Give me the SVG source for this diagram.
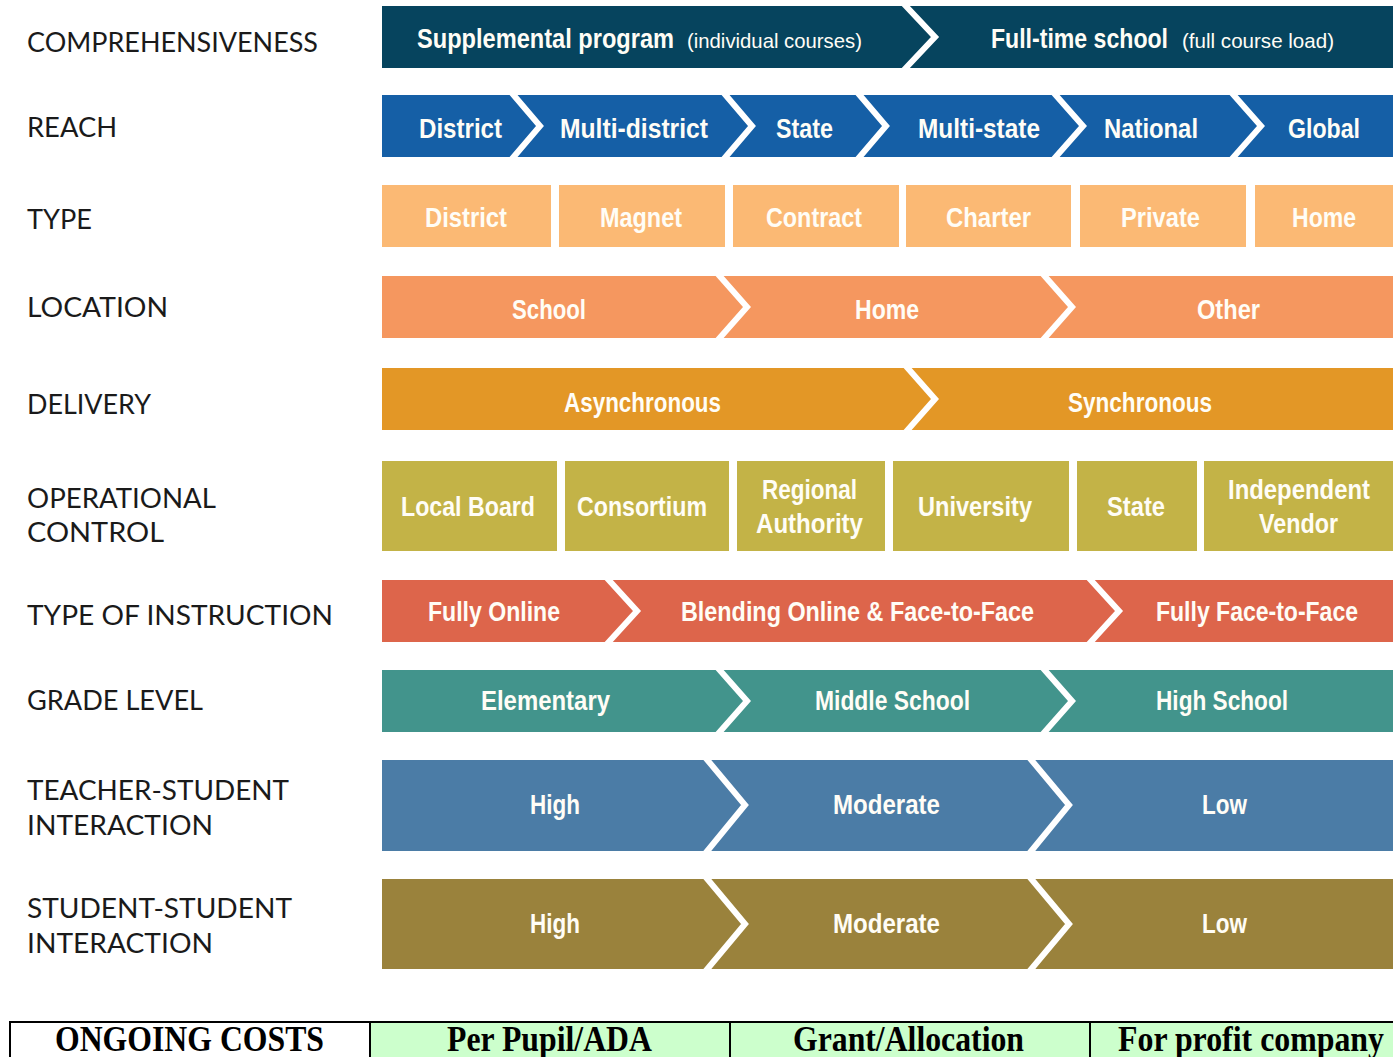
<svg xmlns="http://www.w3.org/2000/svg" width="1393" height="1057" viewBox="0 0 1393 1057">
<style>
.lbl{font-family:"Lato","Liberation Sans",sans-serif;font-size:27px;fill:#1a1a1a;}
.t{font-family:"Liberation Sans","Arial",sans-serif;font-weight:bold;font-size:27px;fill:#fffdf6;text-anchor:start;}
.ts{font-family:"Liberation Sans","Arial",sans-serif;font-weight:normal;font-size:21px;fill:#fffdf6;}
.sep{fill:none;stroke:#ffffff;stroke-width:6;stroke-linejoin:miter;}
.tb{font-family:"Liberation Serif","Times New Roman",serif;font-weight:bold;font-size:35px;fill:#000;}
.cell{stroke:#000;stroke-width:2;}
</style>
<rect width="1393" height="1057" fill="#ffffff"/>

<g id="labels">
<text class="lbl" x="27" y="52" textLength="291" lengthAdjust="spacingAndGlyphs">COMPREHENSIVENESS</text>
<text class="lbl" x="27" y="137" textLength="90" lengthAdjust="spacingAndGlyphs">REACH</text>
<text class="lbl" x="27" y="229" textLength="65" lengthAdjust="spacingAndGlyphs">TYPE</text>
<text class="lbl" x="27" y="317" textLength="141" lengthAdjust="spacingAndGlyphs">LOCATION</text>
<text class="lbl" x="27" y="414" textLength="124" lengthAdjust="spacingAndGlyphs">DELIVERY</text>
<text class="lbl" x="27" y="508" textLength="189" lengthAdjust="spacingAndGlyphs">OPERATIONAL</text>
<text class="lbl" x="27" y="542" textLength="137" lengthAdjust="spacingAndGlyphs">CONTROL</text>
<text class="lbl" x="27" y="625" textLength="306" lengthAdjust="spacingAndGlyphs">TYPE OF INSTRUCTION</text>
<text class="lbl" x="27" y="710" textLength="176" lengthAdjust="spacingAndGlyphs">GRADE LEVEL</text>
<text class="lbl" x="27" y="800" textLength="262" lengthAdjust="spacingAndGlyphs">TEACHER-STUDENT</text>
<text class="lbl" x="27" y="835" textLength="186" lengthAdjust="spacingAndGlyphs">INTERACTION</text>
<text class="lbl" x="27" y="918" textLength="265" lengthAdjust="spacingAndGlyphs">STUDENT-STUDENT</text>
<text class="lbl" x="27" y="953" textLength="186" lengthAdjust="spacingAndGlyphs">INTERACTION</text>
</g>

<g id="row-comprehensiveness">
<rect x="382" y="6" width="1011" height="62" fill="#06445e"/>
<polyline class="sep" points="903,3 935,37 903,71"/>
<text class="t" x="417" y="48" textLength="257" lengthAdjust="spacingAndGlyphs">Supplemental program</text>
<text class="ts" x="687" y="48" textLength="175" lengthAdjust="spacingAndGlyphs">(individual courses)</text>
<text class="t" x="991" y="48" textLength="177" lengthAdjust="spacingAndGlyphs">Full-time school</text>
<text class="ts" x="1182" y="48" textLength="152" lengthAdjust="spacingAndGlyphs">(full course load)</text>
</g>

<g id="row-reach">
<rect x="382" y="95" width="1011" height="62" fill="#155fa6"/>
<polyline class="sep" points="511,92 540,126 511,160"/>
<polyline class="sep" points="723,92 752,126 723,160"/>
<polyline class="sep" points="857,92 886,126 857,160"/>
<polyline class="sep" points="1053,92 1083,126 1053,160"/>
<polyline class="sep" points="1231,92 1261,126 1231,160"/>
<text class="t" x="419" y="138" textLength="83" lengthAdjust="spacingAndGlyphs">District</text>
<text class="t" x="560" y="138" textLength="148" lengthAdjust="spacingAndGlyphs">Multi-district</text>
<text class="t" x="776" y="138" textLength="57" lengthAdjust="spacingAndGlyphs">State</text>
<text class="t" x="918" y="138" textLength="122" lengthAdjust="spacingAndGlyphs">Multi-state</text>
<text class="t" x="1104" y="138" textLength="94" lengthAdjust="spacingAndGlyphs">National</text>
<text class="t" x="1288" y="138" textLength="72" lengthAdjust="spacingAndGlyphs">Global</text>
</g>

<g id="row-type">
<rect x="382" y="185" width="169" height="62" fill="#fbb974"/>
<rect x="559" y="185" width="166" height="62" fill="#fbb974"/>
<rect x="733" y="185" width="166" height="62" fill="#fbb974"/>
<rect x="906" y="185" width="165" height="62" fill="#fbb974"/>
<rect x="1080" y="185" width="166" height="62" fill="#fbb974"/>
<rect x="1255" y="185" width="138" height="62" fill="#fbb974"/>
<text class="t" x="425" y="227" textLength="82" lengthAdjust="spacingAndGlyphs">District</text>
<text class="t" x="600" y="227" textLength="82" lengthAdjust="spacingAndGlyphs">Magnet</text>
<text class="t" x="766" y="227" textLength="96" lengthAdjust="spacingAndGlyphs">Contract</text>
<text class="t" x="946" y="227" textLength="85" lengthAdjust="spacingAndGlyphs">Charter</text>
<text class="t" x="1121" y="227" textLength="79" lengthAdjust="spacingAndGlyphs">Private</text>
<text class="t" x="1292" y="227" textLength="64" lengthAdjust="spacingAndGlyphs">Home</text>
</g>

<g id="row-location">
<rect x="382" y="276" width="1011" height="62" fill="#f5975f"/>
<polyline class="sep" points="717,273 747,307 717,341"/>
<polyline class="sep" points="1042,273 1072,307 1042,341"/>
<text class="t" x="512" y="319" textLength="74" lengthAdjust="spacingAndGlyphs">School</text>
<text class="t" x="855" y="319" textLength="64" lengthAdjust="spacingAndGlyphs">Home</text>
<text class="t" x="1197" y="319" textLength="63" lengthAdjust="spacingAndGlyphs">Other</text>
</g>

<g id="row-delivery">
<rect x="382" y="368" width="1011" height="62" fill="#e39726"/>
<polyline class="sep" points="905,365 935,399 905,433"/>
<text class="t" x="564" y="412" textLength="157" lengthAdjust="spacingAndGlyphs">Asynchronous</text>
<text class="t" x="1068" y="412" textLength="144" lengthAdjust="spacingAndGlyphs">Synchronous</text>
</g>

<g id="row-operational-control">
<rect x="382" y="461" width="175" height="90" fill="#c3b347"/>
<rect x="565" y="461" width="164" height="90" fill="#c3b347"/>
<rect x="737" y="461" width="148" height="90" fill="#c3b347"/>
<rect x="893" y="461" width="176" height="90" fill="#c3b347"/>
<rect x="1077" y="461" width="120" height="90" fill="#c3b347"/>
<rect x="1204" y="461" width="189" height="90" fill="#c3b347"/>
<text class="t" x="401" y="516" textLength="134" lengthAdjust="spacingAndGlyphs">Local Board</text>
<text class="t" x="577" y="516" textLength="130" lengthAdjust="spacingAndGlyphs">Consortium</text>
<text class="t" x="762" y="499" textLength="95" lengthAdjust="spacingAndGlyphs">Regional</text>
<text class="t" x="756" y="533" textLength="107" lengthAdjust="spacingAndGlyphs">Authority</text>
<text class="t" x="918" y="516" textLength="114" lengthAdjust="spacingAndGlyphs">University</text>
<text class="t" x="1107" y="516" textLength="58" lengthAdjust="spacingAndGlyphs">State</text>
<text class="t" x="1228" y="499" textLength="142" lengthAdjust="spacingAndGlyphs">Independent</text>
<text class="t" x="1259" y="533" textLength="79" lengthAdjust="spacingAndGlyphs">Vendor</text>
</g>

<g id="row-instruction">
<rect x="382" y="580" width="1011" height="62" fill="#dd654b"/>
<polyline class="sep" points="606,577 637,611 606,645"/>
<polyline class="sep" points="1088,577 1119,611 1088,645"/>
<text class="t" x="428" y="621" textLength="132" lengthAdjust="spacingAndGlyphs">Fully Online</text>
<text class="t" x="681" y="621" textLength="353" lengthAdjust="spacingAndGlyphs">Blending Online &amp; Face-to-Face</text>
<text class="t" x="1156" y="621" textLength="202" lengthAdjust="spacingAndGlyphs">Fully Face-to-Face</text>
</g>

<g id="row-grade">
<rect x="382" y="670" width="1011" height="62" fill="#42948c"/>
<polyline class="sep" points="717,667 747,701 717,735"/>
<polyline class="sep" points="1042,667 1072,701 1042,735"/>
<text class="t" x="481" y="710" textLength="129" lengthAdjust="spacingAndGlyphs">Elementary</text>
<text class="t" x="815" y="710" textLength="155" lengthAdjust="spacingAndGlyphs">Middle School</text>
<text class="t" x="1156" y="710" textLength="132" lengthAdjust="spacingAndGlyphs">High School</text>
</g>

<g id="row-teacher-student">
<rect x="382" y="760" width="1011" height="91" fill="#4b7ca6"/>
<polyline class="sep" points="704,756 745,805 704,855"/>
<polyline class="sep" points="1028,756 1069,805 1028,855"/>
<text class="t" x="530" y="814" textLength="50" lengthAdjust="spacingAndGlyphs">High</text>
<text class="t" x="833" y="814" textLength="107" lengthAdjust="spacingAndGlyphs">Moderate</text>
<text class="t" x="1202" y="814" textLength="45" lengthAdjust="spacingAndGlyphs">Low</text>
</g>

<g id="row-student-student">
<rect x="382" y="879" width="1011" height="90" fill="#9a823c"/>
<polyline class="sep" points="704,875 745,924 704,973"/>
<polyline class="sep" points="1028,875 1069,924 1028,973"/>
<text class="t" x="530" y="933" textLength="50" lengthAdjust="spacingAndGlyphs">High</text>
<text class="t" x="833" y="933" textLength="107" lengthAdjust="spacingAndGlyphs">Moderate</text>
<text class="t" x="1202" y="933" textLength="45" lengthAdjust="spacingAndGlyphs">Low</text>
</g>

<g id="costs-table">
<rect class="cell" x="10" y="1022" width="360" height="50" fill="#ffffff"/>
<rect class="cell" x="370" y="1022" width="360" height="50" fill="#ccffcc"/>
<rect class="cell" x="730" y="1022" width="360" height="50" fill="#ccffcc"/>
<rect class="cell" x="1090" y="1022" width="320" height="50" fill="#ccffcc"/>
<text class="tb" x="55" y="1051" textLength="269" lengthAdjust="spacingAndGlyphs">ONGOING COSTS</text>
<text class="tb" x="447" y="1051" textLength="205" lengthAdjust="spacingAndGlyphs">Per Pupil/ADA</text>
<text class="tb" x="793" y="1051" textLength="231" lengthAdjust="spacingAndGlyphs">Grant/Allocation</text>
<text class="tb" x="1118" y="1051" textLength="266" lengthAdjust="spacingAndGlyphs">For profit company</text>
</g>
</svg>
